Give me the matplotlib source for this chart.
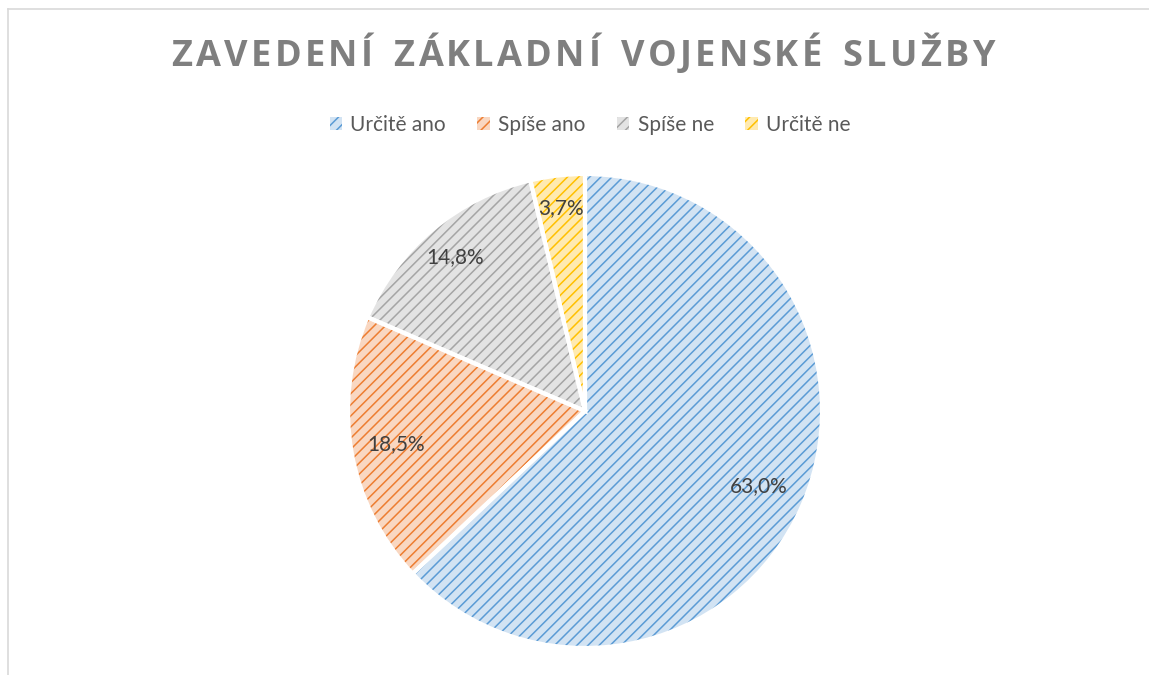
import matplotlib
matplotlib.use("Agg")
import numpy as np
import matplotlib.pyplot as plt
from matplotlib.patches import Patch
from matplotlib.lines import Line2D

title = "ZAVEDENÍ ZÁKLADNÍ VOJENSKÉ SLUŽBY"
categories = ["Určitě ano", "Spíše ano", "Spíše ne", "Určitě ne"]
counts = [17, 5, 4, 1]
base_colors = ["#5B9BD5", "#ED7D31", "#A5A5A5", "#FFC000"]
light_colors = ["#D2E3F3", "#F9D7C1", "#E3E3E3", "#FFEAB0"]
# how far from the centre each percentage label sits (Excel "best fit")
label_dist = [0.80, 0.81, 0.85, 0.86]

plt.rcParams["hatch.linewidth"] = 1.1
W, H = 1149, 675
fig = plt.figure(figsize=(W / 100, H / 100), dpi=100)

# chart area border (only left and top visible in the reference)
fig.add_artist(Line2D([8 / W, 8 / W], [0, 1 - 9 / H], color="#D9D9D9", lw=1.2))
fig.add_artist(Line2D([8 / W, 1], [1 - 9 / H, 1 - 9 / H], color="#D9D9D9", lw=1.2))

cx, cy, r = 585, H - 411, 237
ax = fig.add_axes([(cx - r) / W, (cy - r) / H, 2 * r / W, 2 * r / H])

total = sum(counts)
wedges, _ = ax.pie(counts, startangle=90, counterclock=False, radius=1,
                   wedgeprops=dict(linewidth=0))
for w, fc, ec in zip(wedges, light_colors, base_colors):
    w.set_facecolor(fc)
    w.set_edgecolor(ec)
    w.set_hatch("///")
    w.set_linewidth(0)

# white separators between slices
ax.pie(counts, startangle=90, counterclock=False, radius=1,
       wedgeprops=dict(facecolor="none", edgecolor="white", linewidth=3))

for w, c, d in zip(wedges, counts, label_dist):
    ang = np.deg2rad((w.theta1 + w.theta2) / 2)
    ax.text(d * np.cos(ang), d * np.sin(ang),
            f"{c / total * 100:.1f}%".replace(".", ","),
            ha="center", va="center", fontsize=15, color="#404040",
            family="Lato", zorder=5)

ax.set_xlim(-1, 1)
ax.set_ylim(-1, 1)
ax.set_aspect("equal")
ax.axis("off")

# spaced title, char by char
fig.canvas.draw()
renderer = fig.canvas.get_renderer()
tprops = dict(fontsize=26, fontweight="bold", color="#7F7F7F", family="Open Sans")
widths = []
for ch in title:
    tmp = fig.text(0, 0, ch if ch != " " else "n", **tprops)
    widths.append(tmp.get_window_extent(renderer).width * (0.6 if ch == " " else 1))
    tmp.remove()
target = 823
gap = (target - sum(widths)) / (len(title) - 1)
x = 583 - target / 2
for ch, w in zip(title, widths):
    fig.text(x / W, 1 - 57 / H, ch, ha="left", va="center", **tprops)
    x += w + gap

handles = [Patch(facecolor=fc, edgecolor=ec, hatch="///", linewidth=0)
           for fc, ec in zip(light_colors, base_colors)]
fig.legend(handles, categories, loc="center", bbox_to_anchor=(590 / W, 1 - 125 / H),
           ncol=4, frameon=False, handlelength=0.6, handleheight=0.6,
           handletextpad=0.4, columnspacing=1.5,
           prop=dict(family="Lato", size=15), labelcolor="#595959")

fig.savefig("out.png", dpi=100)
